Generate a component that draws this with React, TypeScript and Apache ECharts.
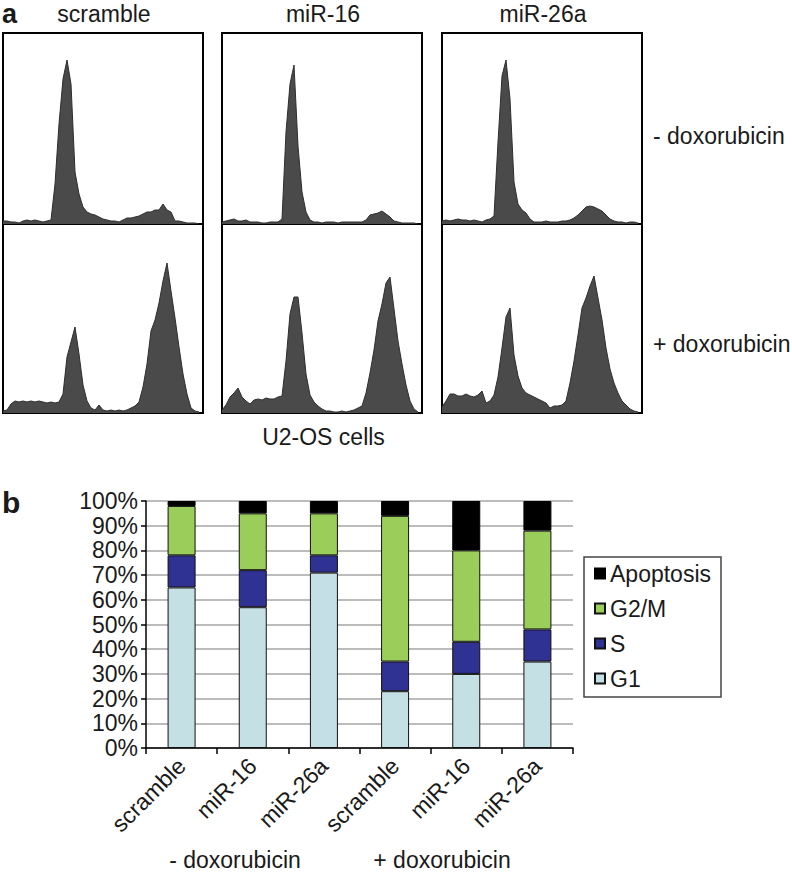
import React, { useEffect, useRef } from "react";
import * as echarts from "echarts";

// ---------- Panel a: flow-cytometry DNA histograms (50 channels each) ----------
const columnTitles = ["scramble", "miR-16", "miR-26a"];
const rowTitles = ["- doxorubicin", "+ doxorubicin"];
const xAxisTitleA = "U2-OS cells";

const histScrambleMinus = [
  3, 3, 2, 2, 1, 3, 4, 3, 4, 3,
  2, 3, 4, 40, 100, 145, 164, 140, 52, 30,
  17, 12, 10, 9, 7, 5, 4, 3, 3,
  2, 4, 6, 6, 7, 8, 10, 12, 12, 14, 14, 20, 14, 12, 3, 3, 2, 1, 1, 1, 0,
];
const histMiR16Minus = [
  2, 3, 4, 5, 3, 3, 4, 2, 2, 2,
  1, 1, 2, 2, 2, 5, 92, 140, 159, 78,
  32, 12, 4, 2, 2, 1, 2, 2, 2, 1,
  2, 2, 2, 2, 2, 2, 4, 9, 10, 11,
  13, 10, 7, 3, 2, 1, 1, 1, 1, 0,
];
const histMiR26aMinus = [
  3, 4, 3, 4, 5, 4, 4, 3, 4, 3, 2, 4,
  5, 8, 82, 148, 164, 125, 42, 20, 14, 11, 5, 2,
  2, 2, 3, 2, 2, 2, 3, 3, 4,
  6, 9, 13, 17, 18, 17, 15, 13, 9, 5, 3, 2, 2, 1, 2, 2, 1,
];
const histScramblePlus = [
  2, 3, 9, 12, 11, 12, 11, 12, 11, 12,
  11, 10, 11, 10, 11, 19, 56, 71, 86, 59,
  28, 12, 5, 3, 8, 3, 2, 3, 2, 3,
  2, 3, 5, 7, 11, 26, 49, 82, 93, 110,
  132, 150, 122, 95, 66, 39, 19, 5, 2, 1,
];
const histMiR16Plus = [
  3, 8, 16, 20, 25, 16, 12, 9, 13, 14,
  13, 15, 14, 14, 16, 17, 52, 99, 116, 116,
  80, 39, 18, 11, 7, 4, 2, 2, 1, 1,
  2, 1, 2, 3, 5, 7, 20, 40, 63, 92,
  109, 130, 136, 104, 72, 49, 28, 12, 4, 1,
];
const histMiR26aPlus = [
  6, 12, 19, 19, 17, 17, 19, 17, 16, 18,
  22, 10, 12, 18, 36, 65, 96, 105, 58, 37,
  25, 20, 18, 16, 14, 12, 10, 5, 7, 7,
  8, 12, 30, 52, 78, 105, 115, 127, 137, 115,
  93, 65, 44, 30, 20, 12, 8, 4, 2, 1,
];
const histograms = [
  [histScrambleMinus, histMiR16Minus, histMiR26aMinus],
  [histScramblePlus, histMiR16Plus, histMiR26aPlus],
];

// ---------- Panel b: stacked percentages ----------
const categories = ["scramble", "miR-16", "miR-26a", "scramble", "miR-16", "miR-26a"];
const groupLabels = ["- doxorubicin", "+ doxorubicin"];
const g1 = [65, 57, 71, 23, 30, 35];
const sPhase = [13, 15, 7, 12, 13, 13];
const g2m = [20, 23, 17, 59, 37, 40];
const apoptosis = [2, 5, 5, 6, 20, 12];
const legendOrder = ["Apoptosis", "G2/M", "S", "G1"];

const FONT = "'Liberation Sans', Arial, Helvetica, sans-serif";
const TXT = "#1a1a1a";

export default function App() {
  const ref = useRef<HTMLDivElement>(null);

  useEffect(() => {
    if (!ref.current) return;
    const chart = echarts.init(ref.current, null, { renderer: "svg" });

    const colLefts = [3, 222, 442];
    const rowTops = [33, 224];
    const rowHeights = [191, 189];

    const grids: any[] = [];
    const xAxes: any[] = [];
    const yAxes: any[] = [];
    const series: any[] = [];

    let idx = 0;
    for (let r = 0; r < 2; r++) {
      for (let c = 0; c < 3; c++) {
        grids.push({
          left: colLefts[c],
          top: rowTops[r],
          width: 200,
          height: rowHeights[r],
          show: true,
          borderColor: "#000",
          borderWidth: 2,
          backgroundColor: "#fff",
          containLabel: false,
        });
        xAxes.push({ type: "value", gridIndex: idx, min: 0, max: 50, show: false });
        yAxes.push({ type: "value", gridIndex: idx, min: 0, max: rowHeights[r], show: false });
        series.push({
          type: "line",
          xAxisIndex: idx,
          yAxisIndex: idx,
          data: histograms[r][c].map((v, i) => [i, v]),
          symbol: "none",
          smooth: false,
          lineStyle: { color: "#2e2e2e", width: 1 },
          areaStyle: { color: "#4a4a4a", opacity: 1 },
          z: 3,
        });
        idx++;
      }
    }

    // bar chart grid
    grids.push({ left: 146, top: 501, width: 427, height: 247, containLabel: false });
    xAxes.push({
      type: "category",
      gridIndex: idx,
      data: categories,
      axisLine: { show: true, lineStyle: { color: "#000", width: 1.5 } },
      axisTick: { show: true, length: 6, interval: 0, lineStyle: { color: "#000", width: 1.5 } },
      axisLabel: {
        rotate: 45,
        interval: 0,
        fontSize: 23,
        fontFamily: FONT,
        color: TXT,
        margin: 14,
      },
    });
    yAxes.push({
      type: "value",
      gridIndex: idx,
      min: 0,
      max: 100,
      interval: 10,
      axisLine: { show: true, lineStyle: { color: "#000", width: 1.5 } },
      axisTick: { show: true, length: 5, lineStyle: { color: "#000", width: 1.5 } },
      axisLabel: {
        formatter: "{value}%",
        fontSize: 23,
        fontFamily: FONT,
        color: TXT,
        margin: 8,
      },
      splitLine: { show: true, lineStyle: { color: "#a6a6a6", width: 1.5 } },
    });
    const barCommon = {
      type: "bar",
      stack: "total",
      xAxisIndex: idx,
      yAxisIndex: idx,
      barWidth: 28,
    };
    series.push(
      { ...barCommon, name: "G1", data: g1, itemStyle: { color: "#c5e0e4", borderColor: "#111", borderWidth: 1 } },
      { ...barCommon, name: "S", data: sPhase, itemStyle: { color: "#2f3193", borderColor: "#111", borderWidth: 1 } },
      { ...barCommon, name: "G2/M", data: g2m, itemStyle: { color: "#9acd5a", borderColor: "#111", borderWidth: 1 } },
      { ...barCommon, name: "Apoptosis", data: apoptosis, itemStyle: { color: "#000", borderColor: "#000", borderWidth: 1 } }
    );

    const txt = (text: string, x: number, y: number, align: string, size = 23, weight = "normal") => ({
      type: "text",
      x,
      y,
      style: {
        text,
        fill: TXT,
        font: `${weight} ${size}px ${FONT}`,
        align,
        verticalAlign: "middle",
      },
    });

    const graphics: any[] = [
      txt("a", 2, 14, "left", 27, "bold"),
      txt(columnTitles[0], 104, 13.5, "center"),
      txt(columnTitles[1], 323, 13.5, "center"),
      txt(columnTitles[2], 543, 13.5, "center"),
      txt(rowTitles[0], 653, 135.5, "left"),
      txt(rowTitles[1], 653, 344, "left"),
      txt(xAxisTitleA, 323.5, 437, "center"),
      txt("b", 2, 502, "left", 30, "bold"),
      txt(groupLabels[0], 235, 860, "center"),
      txt(groupLabels[1], 442, 860, "center"),
    ];

    chart.setOption({
      animation: false,
      backgroundColor: "#fff",
      textStyle: { fontFamily: FONT },
      grid: grids,
      xAxis: xAxes,
      yAxis: yAxes,
      series,
      legend: {
        data: legendOrder,
        orient: "vertical",
        left: 584,
        top: 557,
        icon: "rect",
        itemWidth: 10,
        itemHeight: 10,
        itemGap: 12,
        padding: [5, 10, 7, 10],
        borderColor: "#444",
        borderWidth: 1.5,
        backgroundColor: "#fff",
        selectedMode: false,
        textStyle: { fontSize: 23, lineHeight: 22, color: TXT, fontFamily: FONT },
      },
      graphic: { elements: graphics },
    });

    return () => chart.dispose();
  }, []);

  return (
    <div
      ref={ref}
      style={{ position: "fixed", left: 0, top: 0, width: 792, height: 875, background: "#fff" }}
    />
  );
}
